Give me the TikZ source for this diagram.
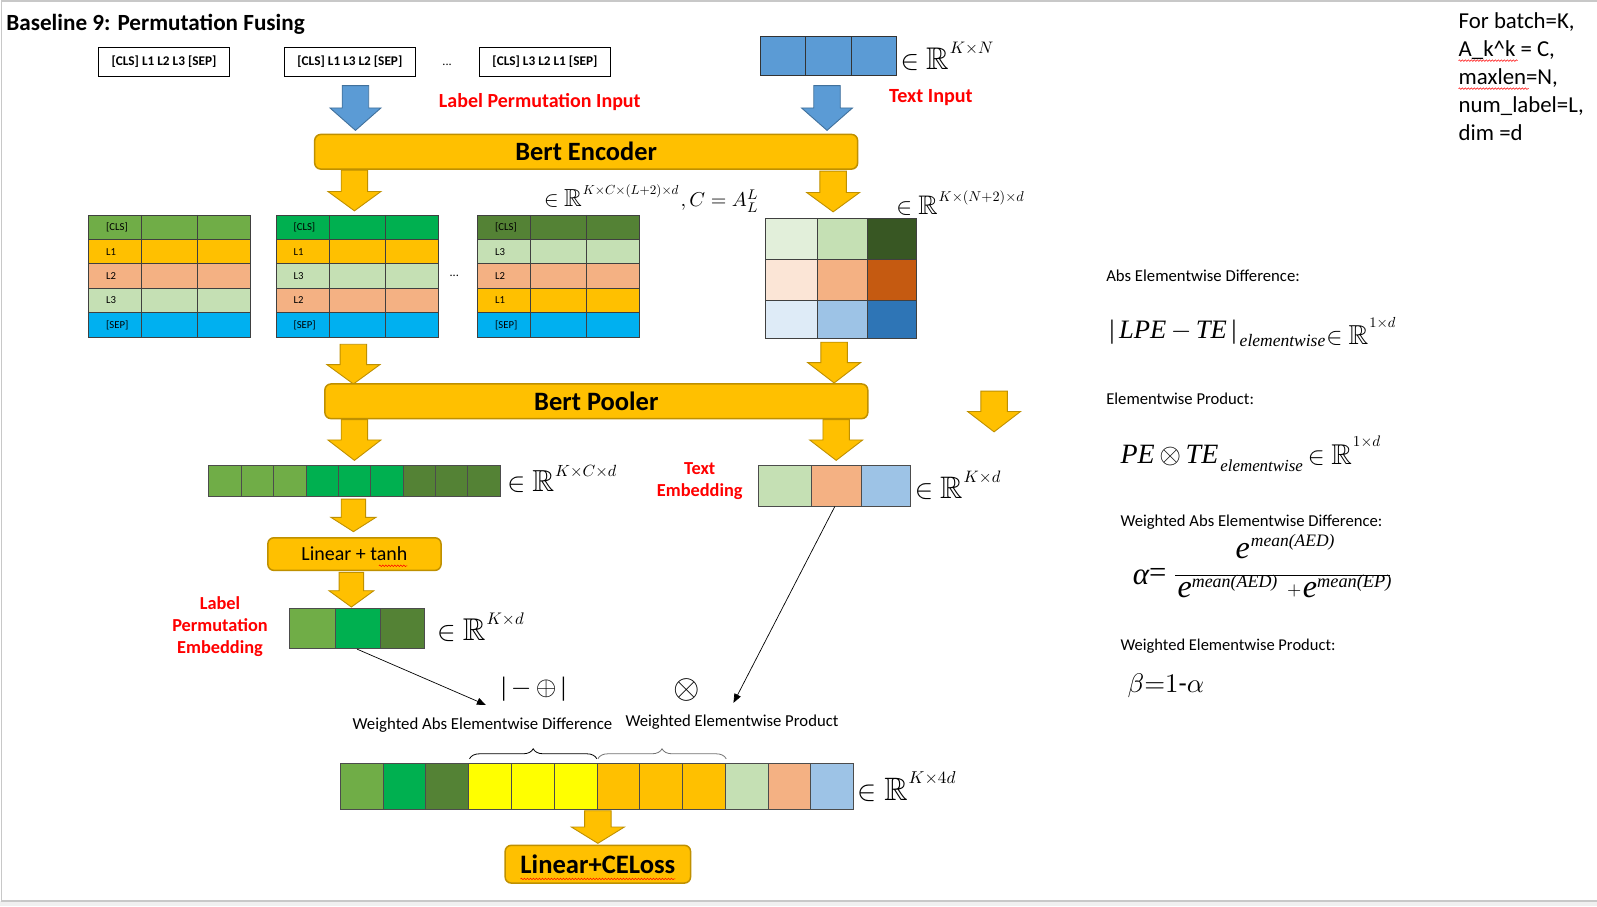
\documentclass[tikz,border=0pt]{standalone}
\usepackage[no-math]{fontspec}
\setmainfont{Carlito}
\newfontfamily\tms{Liberation Serif}
\usepackage{amsmath,amssymb}
\usepackage{graphicx}
\usetikzlibrary{arrows.meta,decorations.pathmorphing,decorations.pathreplacing}

\definecolor{gold}{HTML}{FFC000}
\definecolor{goldedge}{HTML}{BF9000}
\definecolor{blueA}{HTML}{5B9BD5}
\definecolor{blueEdge}{HTML}{41719C}
\definecolor{gA}{HTML}{70AD47}
\definecolor{gB}{HTML}{00B050}
\definecolor{gC}{HTML}{548235}
\definecolor{lgreen}{HTML}{C5E0B4}
\definecolor{salmon}{HTML}{F4B183}
\definecolor{cyanS}{HTML}{00B0F0}
\definecolor{lblue}{HTML}{9DC3E6}
\definecolor{ygreen}{HTML}{E2EFDA}
\definecolor{dgreen}{HTML}{385723}
\definecolor{lpeach}{HTML}{FBE5D6}
\definecolor{rust}{HTML}{C55A11}
\definecolor{vlblue}{HTML}{DEEBF7}
\definecolor{mblue}{HTML}{2E75B6}
\definecolor{yel}{HTML}{FFFF00}
\definecolor{redT}{HTML}{FF0000}
\definecolor{frameC}{HTML}{C8C8C8}
\definecolor{stripC}{HTML}{F0F0F0}

\newcommand{\fitw}[2]{\resizebox{#1pt}{!}{#2}}
\newcommand{\inRbox}[2][16pt]{\scalebox{2.75}{$\in$}\hspace{7pt}\scalebox{3.1}{$\mathbb{R}$}\hspace{1pt}\raisebox{#1}{\scalebox{1.65}{$#2$}}}
\newcommand{\blockdown}[7]{\filldraw[#1] (#2-#6,#3) -- (#2+#6,#3) -- (#2+#6,#4) -- (#2+#7,#4) -- (#2,#5) -- (#2-#7,#4) -- (#2-#6,#4) -- cycle;}
\newcommand{\lbltable}[3]{%
  \begin{scope}[shift={(#2,211)}]
    \foreach \c/\t [count=\i from 0] in {#3} {
      \fill[\c] (0,24*\i) rectangle (159,24*\i+24);
      \node[anchor=west, tabfont] at (17,24*\i+12) {\t};
    }
    \foreach \i in {1,...,4} \draw[cell] (0,24*\i) -- (159,24*\i);
    \draw[cell] (52,0) -- (52,120) (107,0) -- (107,120);
    \draw[cell] (0,0) rectangle (159,120);
    \node[minimum width=159, minimum height=120, inner sep=0] (#1) at (79.5,60) {};
  \end{scope}}

\begin{document}
\begin{tikzpicture}[x=1pt,y=-1pt,scale=1.01849,
  every node/.append style={transform shape},
  gold arrow/.style={fill=gold, draw=goldedge, line width=0.9},
  blue arrow/.style={fill=blueA, draw=blueEdge, line width=0.9},
  gbox/.style={rounded corners=6, fill=gold, draw=goldedge, line width=1.5, inner sep=0},
  cell/.style={draw=black!75, line width=0.6},
  inbox/.style={draw=black, line width=0.8, fill=white, minimum width=128, minimum height=28, inner sep=0},
  redlbl/.style={text=redT, font=\bfseries, align=center, inner sep=0},
  lbl/.style={inner sep=0, anchor=base west},
  tabfont/.style={inner sep=0, font=\fontsize{10.5}{12}\selectfont},
  squig/.style={draw=red, line width=0.5, decorate, decoration={snake, amplitude=0.8, segment length=3}},
  thinarrow/.style={-{Triangle[length=9,width=7]}, line width=0.7},
]
\useasboundingbox (0,0) rectangle (1568,889.55);
\fill[white] (0,0) rectangle (1568,889.55);
\fill[stripC] (0,884.7) rectangle (1568,889.55);
\draw[frameC, line width=1.2] (1568,1) -- (1.5,1) -- (1.5,884.7) -- (1568,884.7);

% title
\node[lbl] (title) at (6,30) {\fitw{293}{\bfseries Baseline 9: Permutation Fusing}};

% label permutation inputs
\node[inbox] (in1) at (161,61) {\fitw{103}{\bfseries [CLS] L1 L2 L3 [SEP]}};
\node[inbox] (in2) at (343.5,61) {\fitw{103}{\bfseries [CLS] L1 L3 L2 [SEP]}};
\node[font=\fontsize{12}{14}\selectfont, inner sep=0] (dots1) at (439,64) {...};
\node[inbox] (in3) at (535,61) {\fitw{103}{\bfseries [CLS] L3 L2 L1 [SEP]}};

% text input
\foreach \a/\b in {747/791,791/836,836/880}
  \filldraw[fill=blueA, draw=black!80, line width=0.8] (\a,36) rectangle (\b,74);
\node[inner sep=0, minimum width=133, minimum height=38] (tin) at (813.5,55) {};
\node[lbl] (tinR) at (884,68) {\fitw{91}{\inRbox{K{\times}N}}};

\blockdown{blue arrow}{349}{84}{106}{128}{13}{25}
\blockdown{blue arrow}{812}{84}{106}{128}{13}{25}

\node[redlbl] (lpi) at (530,100) {\fitw{198}{Label Permutation Input}};
\node[redlbl] (ti) at (914,96) {\fitw{82}{Text Input}};

% Bert encoder
\node[gbox, minimum width=533, minimum height=34] (enc) at (575.5,149) {\fitw{139}{\bfseries Bert Encoder}};

\blockdown{gold arrow}{348}{167}{188}{207}{13}{26}
\blockdown{gold arrow}{818}{168}{189}{208}{13}{26}

\node[lbl] (encR) at (534,203) {\fitw{132}{\inRbox{K{\times}C{\times}(L{+}2){\times}d}}};
\node[lbl] (encR2) at (668,203) {\fitw{77}{$,C=A_L^L$}};
\node[lbl] (matR) at (880,211) {\fitw{125}{\inRbox{K{\times}(N{+}2){\times}d}}};

% tables
\lbltable{t1}{87}{gA/{[CLS]},gold/L1,salmon/L2,lgreen/L3,cyanS/{[SEP]}}
\lbltable{t2}{271}{gB/{[CLS]},gold/L1,lgreen/L3,salmon/L2,cyanS/{[SEP]}}
\lbltable{t3}{469}{gC/{[CLS]},lgreen/L3,salmon/L2,gold/L1,cyanS/{[SEP]}}
\node[font=\fontsize{12}{14}\selectfont, inner sep=0] (dots2) at (446,271) {...};

% text matrix
\foreach \c [count=\i from 0] in {ygreen,lgreen,dgreen} {
  \pgfmathsetmacro{\xa}{{751,802,852}[\i]}
  \pgfmathsetmacro{\xb}{{802,852,900}[\i]}
  \filldraw[fill=\c, draw=black!75, line width=0.6] (\xa,214) rectangle (\xb,255);
}
\foreach \c [count=\i from 0] in {lpeach,salmon,rust} {
  \pgfmathsetmacro{\xa}{{751,802,852}[\i]}
  \pgfmathsetmacro{\xb}{{802,852,900}[\i]}
  \filldraw[fill=\c, draw=black!75, line width=0.6] (\xa,255) rectangle (\xb,295);
}
\foreach \c [count=\i from 0] in {vlblue,lblue,mblue} {
  \pgfmathsetmacro{\xa}{{751,802,852}[\i]}
  \pgfmathsetmacro{\xb}{{802,852,900}[\i]}
  \filldraw[fill=\c, draw=black!75, line width=0.6] (\xa,295) rectangle (\xb,332);
}
\node[inner sep=0, minimum width=149, minimum height=118] (tmat) at (825.5,273) {};

\blockdown{gold arrow}{347}{338}{358}{377}{13}{26}
\blockdown{gold arrow}{819}{336}{356}{376}{13}{26}

% Bert pooler
\node[gbox, minimum width=533, minimum height=34] (pool) at (585.5,394) {\fitw{122}{\bfseries Bert Pooler}};
\blockdown{gold arrow}{976}{384}{404}{424}{13}{26}

\blockdown{gold arrow}{348}{412}{432}{452}{13}{26}
\blockdown{gold arrow}{821}{412}{432}{452}{13}{26}

% pooled permutation row
\foreach \c [count=\i from 0] in {gA,gA,gA,gB,gB,gB,gC,gC,gC}
  \filldraw[fill=\c, draw=black!70, line width=0.6] (205+31.78*\i,457) rectangle (205+31.78*\i+31.78,487);
\node[inner sep=0, minimum width=286, minimum height=30] (prow) at (348,472) {};
\node[lbl] (prowR) at (498,483) {\fitw{107}{\inRbox{K{\times}C{\times}d}}};

% text embedding
\node[redlbl, font=\bfseries\fontsize{18}{21.5}\selectfont] (telbl) at (687,472.5) {Text\\Embedding};
\filldraw[fill=lgreen, draw=black!70, line width=0.6] (745,457) rectangle (797,497);
\filldraw[fill=salmon, draw=black!70, line width=0.6] (797,457) rectangle (846,497);
\filldraw[fill=lblue, draw=black!70, line width=0.6] (846,457) rectangle (894,497);
\node[inner sep=0, minimum width=149, minimum height=40] (temb) at (819.5,477) {};
\node[lbl] (tembR) at (898,489) {\fitw{84}{\inRbox{K{\times}d}}};

\blockdown{gold arrow}{347}{490}{508}{522}{12}{22}

% linear + tanh
\node[gbox, minimum width=170, minimum height=32] (lin) at (348,544) {\fitw{104}{Linear + tanh}};
\draw[squig] (372,555.5) -- (400,555.5);

\blockdown{gold arrow}{345}{562}{580}{596}{12}{22}

% label permutation embedding
\node[redlbl, font=\bfseries\fontsize{18}{21.5}\selectfont] (lpelbl) at (216,615) {Label\\Permutation\\Embedding};
\filldraw[fill=gA, draw=black!70, line width=0.6] (284,597) rectangle (329,637);
\filldraw[fill=gB, draw=black!70, line width=0.6] (329,597) rectangle (373,637);
\filldraw[fill=gC, draw=black!70, line width=0.6] (373,597) rectangle (417,637);
\node[inner sep=0, minimum width=133, minimum height=40] (lpe) at (350.5,617) {};
\node[lbl] (lpeR) at (429,629) {\fitw{85}{\inRbox{K{\times}d}}};

% operators
\node[inner sep=0] (absop) at (524,677) {\fitw{64}{\tms |\,$-\,\oplus$\,|}};
\node[inner sep=0] (prodop) at (674,677) {\fitw{26}{$\otimes$}};
\coordinate (aedtip) at (477,692);
\coordinate (eptip) at (720,690);
\draw[thinarrow] (lpe.south) -- (aedtip);
\draw[thinarrow] (temb.south) -- (eptip);

\node[lbl] (aedlbl) at (346,716) {\fitw{255}{Weighted Abs Elementwise Difference}};
\node[lbl] (eplbl) at (614,713) {\fitw{209}{Weighted Elementwise Product}};

\draw[decorate, decoration={brace, amplitude=10}, line width=0.8] (461,745) -- (586,745);
\draw[decorate, decoration={brace, amplitude=10}, line width=0.8, draw=black!55] (587,745) -- (713,745);

% final row
\foreach \c [count=\i from 0] in {gA,gB,gC,yel,yel,yel,gold,gold,gold,lgreen,salmon,lblue}
  \filldraw[fill=\c, draw=black!70, line width=0.6] (334+42*\i,749) rectangle (376+42*\i,795);
\node[inner sep=0, minimum width=504, minimum height=46] (frow) at (586,772) {};
\node[lbl] (frowR) at (842,786) {\fitw{96}{\inRbox{K{\times}4d}}};

\blockdown{gold arrow}{587}{796}{812}{828}{13}{26}
\node[gbox, minimum width=182, minimum height=37] (ce) at (587,848.5) {\fitw{152}{\bfseries Linear+CELoss}};
\draw[squig] (511,863) -- (663,863);

% right-hand formulas
\node[lbl] (f1t) at (1086,276) {\fitw{190}{Abs Elementwise Difference:}};
\node[lbl] (f1a) at (1089,332) {\fitw{125}{\tms |\,\itshape LPE\,$-$\,TE\,\upshape|}};
\node[lbl] (f1b) at (1217,340) {\fitw{84}{\tms\itshape elementwise}};
\node[lbl] (f1c) at (1302,338) {\fitw{68}{\inRbox[19pt]{1{\times}d}}};

\node[lbl] (f2t) at (1086,397.5) {\fitw{145}{Elementwise Product:}};
\node[lbl] (f2a) at (1100,455) {\fitw{96}{\tms\itshape PE\,$\otimes$\,TE}};
\node[lbl] (f2b) at (1198,463) {\fitw{81}{\tms\itshape elementwise}};
\node[lbl] (f2c) at (1284,456) {\fitw{71}{\inRbox[19pt]{1{\times}d}}};

\node[lbl] (f3t) at (1100,516.5) {\fitw{257}{Weighted Abs Elementwise Difference:}};
\node[lbl] (alpha) at (1112,574) {\fitw{16}{\tms\itshape α}};
\node[lbl] (eq) at (1128,572) {\fitw{17}{\tms =}};
\draw[line width=0.9] (1154,565) -- (1365,565);
\node[lbl] (ne) at (1213,548) {\fitw{14}{\tms\itshape e}};
\node[lbl] (ns) at (1228,537) {\fitw{82}{\tms\itshape mean(AED)}};
\node[lbl] (de1) at (1156,587) {\fitw{14}{\tms\itshape e}};
\node[lbl] (ds1) at (1170,577) {\fitw{84}{\tms\itshape mean(AED)}};
\node[lbl] (dp) at (1263.5,585) {\fitw{14}{$+$}};
\node[lbl] (de2) at (1279,587) {\fitw{14}{\tms\itshape e}};
\node[lbl] (ds2) at (1293,577) {\fitw{73}{\tms\itshape mean(EP)}};

\node[lbl] (f4t) at (1100,639) {\fitw{211}{Weighted Elementwise Product:}};
\node[lbl] (f4) at (1107,680) {\fitw{75}{$\beta{=}1\mbox{-}\alpha$}};

% top-right notes
\begin{scope}[every node/.append style={lbl, font=\fontsize{22.4}{27}\selectfont}]
\node (n1) at (1432,28) {For batch=K,};
\node (n2) at (1432,55.5) {A\_k\textasciicircum k = C,};
\node (n3) at (1432,83) {maxlen=N,};
\node (n4) at (1432,110.5) {num\_label=L,};
\node (n5) at (1432,138) {dim =d};
\end{scope}
\draw[squig] (1432,59.5) -- (1490,59.5);
\draw[squig] (1432,87) -- (1501,87);
\end{tikzpicture}
\end{document}
